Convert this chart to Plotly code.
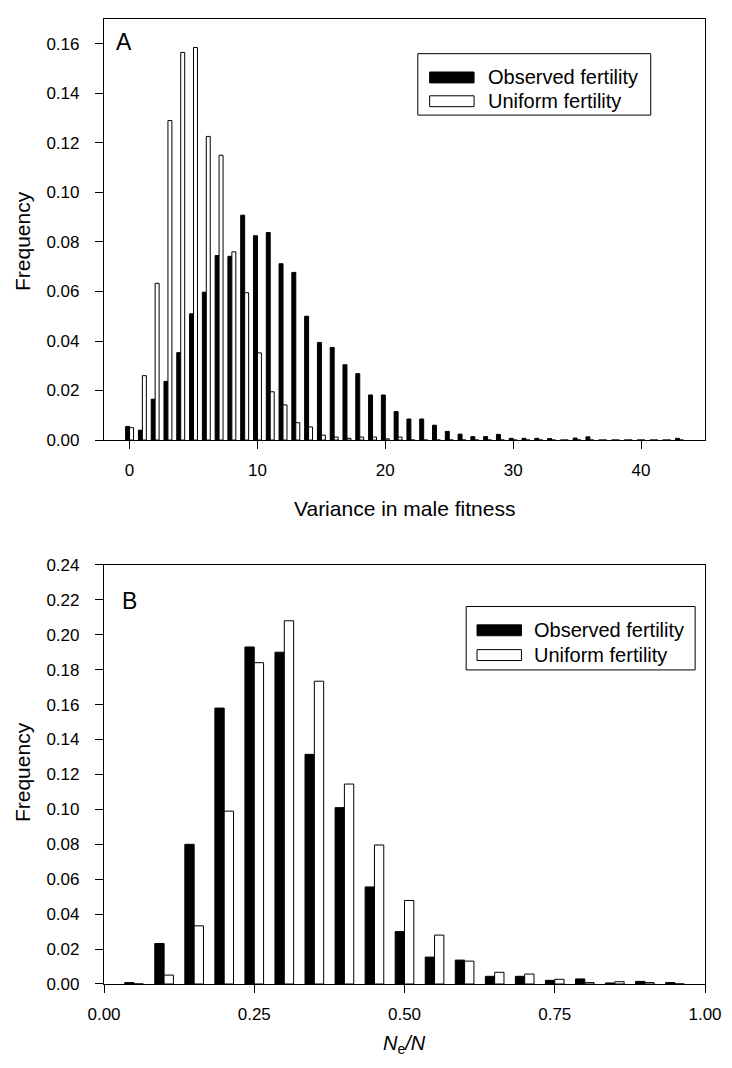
import plotly.graph_objects as go

# ---------------- data ----------------
# Panel A: variance in male fitness (integer bins 0..43)
var_bins = list(range(0, 44))
var_observed = [0.0055, 0.004, 0.0165, 0.0237, 0.0353, 0.051, 0.0597, 0.0745, 0.0742, 0.0908,
                0.0825, 0.0838, 0.0712, 0.0677, 0.050, 0.0394, 0.0374, 0.0304, 0.0268, 0.0182,
                0.0182, 0.0115, 0.0085, 0.0085, 0.006, 0.0035, 0.0024, 0.0014, 0.0014, 0.0023,
                0.0007, 0.0007, 0.0007, 0.0006, 0.0, 0.0008, 0.0013, 0.0, 0.0, 0.0,
                0.0, 0.0, 0.0, 0.0007]
var_uniform = [0.005, 0.026, 0.0633, 0.129, 0.1565, 0.1585, 0.1226, 0.115, 0.076, 0.0595,
               0.0352, 0.0195, 0.0142, 0.007, 0.0053, 0.002, 0.0012, 0.0007, 0.0012, 0.0012,
               0.0005, 0.0012, 0.0, 0.0, 0.0, 0.0, 0.0, 0.0, 0.0, 0.0,
               0.0, 0.0, 0.0, 0.0, 0.0, 0.0, 0.0, 0.0, 0.0, 0.0,
               0.0, 0.0, 0.0, 0.0]

# Panel B: Ne/N (bins of width 0.05)
ne_bins = [0.05, 0.10, 0.15, 0.20, 0.25, 0.30, 0.35, 0.40, 0.45, 0.50,
           0.55, 0.60, 0.65, 0.70, 0.75, 0.80, 0.85, 0.90, 0.95]
ne_observed = [0.0008, 0.0232, 0.080, 0.158, 0.193, 0.190, 0.1315, 0.101, 0.0556, 0.030,
               0.0154, 0.0137, 0.0044, 0.0044, 0.0021, 0.0029, 0.0006, 0.0015, 0.0008]
ne_uniform = [0.0, 0.0051, 0.0333, 0.099, 0.184, 0.208, 0.1734, 0.1145, 0.0796, 0.0478,
              0.028, 0.0131, 0.0067, 0.0057, 0.0027, 0.0008, 0.0013, 0.0008, 0.0]

series_names = ["Observed fertility", "Uniform fertility"]
yticks_a = [0.00, 0.02, 0.04, 0.06, 0.08, 0.10, 0.12, 0.14, 0.16]
yticks_b = [0.00, 0.02, 0.04, 0.06, 0.08, 0.10, 0.12, 0.14, 0.16, 0.18, 0.20, 0.22, 0.24]
xticks_a = [0, 10, 20, 30, 40]
xticks_b = [0.00, 0.25, 0.50, 0.75, 1.00]

# ---------------- layout geometry (pixels) ----------------
W, H = 732, 1068
L, R = 104, 713           # plot area left/right
A_TOP, A_BOT = 10, 435
B_TOP, B_BOT = 561, 984
MT, MB = A_TOP, H - B_BOT
PH = H - MT - MB

def px(xp):
    return (xp - L) / (R - L)

def py(yp):
    return (B_BOT - yp) / PH

FONT = "Liberation Sans, Arial, Helvetica, sans-serif"

fig = go.Figure()

fig.add_trace(go.Bar(x=var_bins, y=var_observed, name=series_names[0],
                     marker=dict(color="black", line=dict(color="black", width=1)),
                     xaxis="x", yaxis="y", showlegend=False))
fig.add_trace(go.Bar(x=var_bins, y=var_uniform, name=series_names[1],
                     marker=dict(color="white", line=dict(color="black", width=1)),
                     xaxis="x", yaxis="y", showlegend=False))
fig.add_trace(go.Bar(x=ne_bins, y=ne_observed, name=series_names[0],
                     marker=dict(color="black", line=dict(color="black", width=1)),
                     xaxis="x2", yaxis="y2", showlegend=False))
fig.add_trace(go.Bar(x=ne_bins, y=ne_uniform, name=series_names[1],
                     marker=dict(color="white", line=dict(color="black", width=1)),
                     xaxis="x2", yaxis="y2", showlegend=False))

axis_common = dict(showline=True, linecolor="black", linewidth=1.2, mirror=True,
                   ticks="outside", ticklen=8, tickwidth=1, tickcolor="black",
                   showgrid=False, zeroline=False,
                   tickfont=dict(family=FONT, size=17, color="black"))

fig.update_layout(
    width=W, height=H,
    margin=dict(l=L, r=W - R, t=MT, b=MB, pad=0),
    paper_bgcolor="white", plot_bgcolor="white",
    barmode="group", bargap=0.38, bargroupgap=0.0,
    font=dict(family=FONT, color="black"),
    xaxis=dict(domain=[0, 1], range=[-2, 45], tickvals=xticks_a,
               ticktext=[str(v) for v in xticks_a], anchor="y",
               ticklabelstandoff=6, **axis_common),
    yaxis=dict(domain=[py(A_BOT), py(A_TOP)], range=[0, 0.17], tickvals=yticks_a,
               ticktext=[f"{v:.2f}" for v in yticks_a], anchor="x",
               ticklabelstandoff=12, **axis_common),
    xaxis2=dict(domain=[0, 1], range=[0, 1], tickvals=xticks_b,
                ticktext=[f"{v:.2f}" for v in xticks_b], anchor="y2",
                ticklabelstandoff=6, **axis_common),
    yaxis2=dict(domain=[py(B_BOT), py(B_TOP)], range=[0, 0.24], tickvals=yticks_b,
                ticktext=[f"{v:.2f}" for v in yticks_b], anchor="x2",
                ticklabelstandoff=12, **axis_common),
)

annotations = []
shapes = []

def txt(x, y, text, size, xanchor="center", yanchor="middle", angle=0):
    annotations.append(dict(x=px(x), y=py(y), xref="paper", yref="paper", text=text,
                            showarrow=False, xanchor=xanchor, yanchor=yanchor,
                            textangle=angle, font=dict(family=FONT, size=size, color="black")))

# panel letters
txt(114, 33, "A", 23, xanchor="left")
txt(120, 597, "B", 23, xanchor="left")

# axis titles
txt(22, 234, "Frequency", 21, angle=-90)
txt(22, 770, "Frequency", 21, angle=-90)
txt((L + R) / 2, 504, "Variance in male fitness", 21)
txt((L + R) / 2, 1045, "<i>N</i><sub>e</sub><i>/N</i>", 20)

def legend_box(x0, x1, y0, y1, sw_x0, sw_x1, row1, row2, text_x):
    shapes.append(dict(type="rect", xref="paper", yref="paper",
                       x0=px(x0), x1=px(x1), y0=py(y1), y1=py(y0),
                       line=dict(color="black", width=1), fillcolor="white"))
    for row, fill in ((row1, "black"), (row2, "white")):
        shapes.append(dict(type="rect", xref="paper", yref="paper",
                           x0=px(sw_x0), x1=px(sw_x1), y0=py(row + 5.5), y1=py(row - 5.5),
                           line=dict(color="black", width=1), fillcolor=fill))
    txt(text_x, row1, series_names[0], 20, xanchor="left")
    txt(text_x, row2, series_names[1], 20, xanchor="left")

legend_box(422, 658, 45, 107, 434, 479, 69, 93, 491)
legend_box(471, 703, 603, 667, 482, 527, 627, 652, 538)

fig.update_layout(annotations=annotations, shapes=shapes)

fig.write_html("out.html", config={"displayModeBar": False},
               post_script="document.body.style.margin='0px';document.body.style.overflow='hidden';")
